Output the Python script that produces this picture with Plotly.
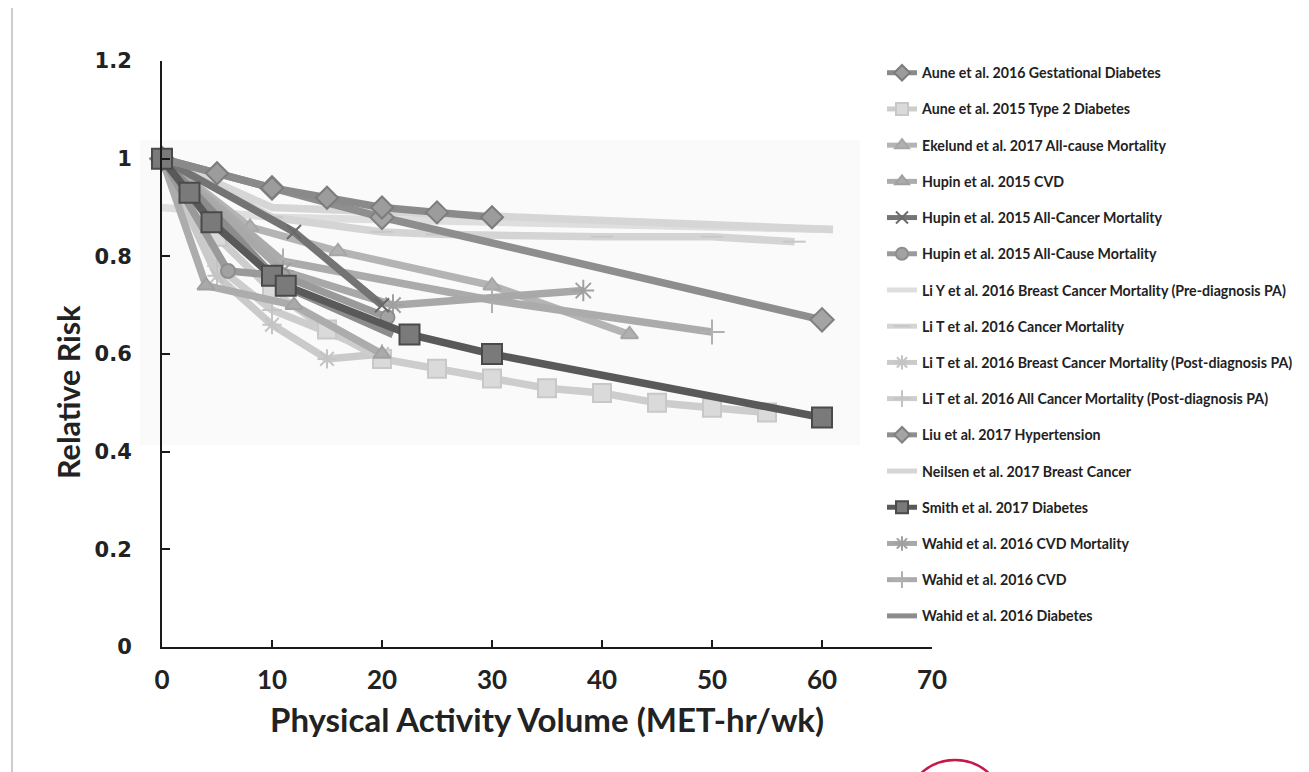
import plotly.graph_objects as go

# ---------------- data ----------------
names = [
    "Aune et al. 2016 Gestational Diabetes",
    "Aune et al. 2015 Type 2 Diabetes",
    "Ekelund et al. 2017 All-cause Mortality",
    "Hupin et al. 2015 CVD",
    "Hupin et al. 2015 All-Cancer Mortality",
    "Hupin et al. 2015 All-Cause Mortality",
    "Li Y et al. 2016 Breast Cancer Mortality (Pre-diagnosis PA)",
    "Li T et al. 2016 Cancer Mortality",
    "Li T et al. 2016 Breast Cancer Mortality (Post-diagnosis PA)",
    "Li T et al. 2016 All Cancer Mortality (Post-diagnosis PA)",
    "Liu et al. 2017 Hypertension",
    "Neilsen et al. 2017 Breast Cancer",
    "Smith et al. 2017 Diabetes",
    "Wahid et al. 2016 CVD Mortality",
    "Wahid et al. 2016 CVD",
    "Wahid et al. 2016 Diabetes",
]

aune_gd_x = [0, 5, 10, 15, 20, 25, 30]
aune_gd_y = [1.0, 0.97, 0.94, 0.92, 0.90, 0.89, 0.88]

aune_t2d_x = [0, 5, 10, 15, 20, 25, 30, 35, 40, 45, 50, 55]
aune_t2d_y = [1.0, 0.84, 0.73, 0.65, 0.59, 0.57, 0.55, 0.53, 0.52, 0.50, 0.49, 0.48]

ekelund_x = [0, 8, 16, 30, 42.5]
ekelund_y = [1.0, 0.86, 0.81, 0.74, 0.64]

hupin_cvd_x = [0, 4, 12, 20]
hupin_cvd_y = [1.0, 0.74, 0.70, 0.60]

hupin_cancer_x = [0, 12, 20]
hupin_cancer_y = [1.0, 0.85, 0.70]

hupin_all_x = [0, 6, 11, 20.5]
hupin_all_y = [1.0, 0.77, 0.76, 0.675]

liy_pre_x = [0, 10, 61]
liy_pre_y = [0.90, 0.88, 0.855]

lit_cancer_x = [0, 10, 20, 25, 40, 50, 57.5]
lit_cancer_y = [1.0, 0.88, 0.85, 0.845, 0.84, 0.84, 0.83]

lit_breast_x = [0, 5, 10, 15, 20]
lit_breast_y = [1.0, 0.76, 0.66, 0.59, 0.60]

lit_allc_x = [0, 5, 10, 20]
lit_allc_y = [1.0, 0.78, 0.69, 0.60]

liu_x = [0, 10, 20, 60]
liu_y = [1.0, 0.94, 0.88, 0.67]

neilsen_x = [0, 10, 61]
neilsen_y = [1.0, 0.90, 0.855]

smith_x = [0, 2.5, 4.5, 10, 11.25, 22.5, 30, 60]
smith_y = [1.0, 0.93, 0.87, 0.76, 0.74, 0.64, 0.60, 0.47]

wahid_cvdm_x = [0, 11, 21, 38.3]
wahid_cvdm_y = [1.0, 0.77, 0.70, 0.73]

wahid_cvd_x = [0, 11, 30, 50]
wahid_cvd_y = [1.0, 0.79, 0.71, 0.645]

wahid_dm_x = [0, 11, 21]
wahid_dm_y = [1.0, 0.74, 0.64]

series_x = [aune_gd_x, aune_t2d_x, ekelund_x, hupin_cvd_x, hupin_cancer_x, hupin_all_x,
            liy_pre_x, lit_cancer_x, lit_breast_x, lit_allc_x, liu_x, neilsen_x,
            smith_x, wahid_cvdm_x, wahid_cvd_x, wahid_dm_x]
series_y = [aune_gd_y, aune_t2d_y, ekelund_y, hupin_cvd_y, hupin_cancer_y, hupin_all_y,
            liy_pre_y, lit_cancer_y, lit_breast_y, lit_allc_y, liu_y, neilsen_y,
            smith_y, wahid_cvdm_y, wahid_cvd_y, wahid_dm_y]

x_ticks = [0, 10, 20, 30, 40, 50, 60, 70]
y_ticks = [0, 0.2, 0.4, 0.6, 0.8, 1.0, 1.2]
y_ticktext = ["0", "0.2", "0.4", "0.6", "0.8", "1", "1.2"]

x_title = "Physical Activity Volume (MET-hr/wk)"
y_title = "Relative Risk"

# ---------------- styles ----------------
styles = [
    dict(color="#8a8a8a", symbol="diamond", size=17, mfill="#9c9c9c", mline="#7c7c7c"),
    dict(color="#cdcdcd", symbol="square", size=18, mfill="#dadada", mline="#c8c8c8"),
    dict(color="#b4b4b4", symbol="triangle-up", size=15, mfill="#b0b0b0", mline="#a6a6a6"),
    dict(color="#acacac", symbol="triangle-up", size=15, mfill="#aaaaaa", mline="#a0a0a0"),
    dict(color="#747474", symbol="x-thin", size=14, mfill="#6a6a6a", mline="#6a6a6a"),
    dict(color="#9a9a9a", symbol="circle", size=14, mfill="#a2a2a2", mline="#8e8e8e"),
    dict(color="#dedede", symbol=None, size=0, mfill=None, mline=None),
    dict(color="#d4d4d4", symbol="line-ew", size=16, mfill="#c8c8c8", mline="#c8c8c8"),
    dict(color="#cacaca", symbol="asterisk", size=16, mfill="#c4c4c4", mline="#c4c4c4"),
    dict(color="#cdcdcd", symbol="cross-thin", size=14, mfill="#c4c4c4", mline="#c4c4c4"),
    dict(color="#8e8e8e", symbol="diamond", size=18, mfill="#a4a4a4", mline="#808080"),
    dict(color="#d6d6d6", symbol=None, size=0, mfill=None, mline=None),
    dict(color="#595959", symbol="square", size=20, mfill="#7a7a7a", mline="#4a4a4a"),
    dict(color="#a8a8a8", symbol="asterisk", size=18, mfill="#a0a0a0", mline="#a0a0a0"),
    dict(color="#ababab", symbol="cross-thin", size=18, mfill="#b0b0b0", mline="#b0b0b0"),
    dict(color="#8c8c8c", symbol=None, size=0, mfill=None, mline=None),
]

draw_order = [6, 11, 7, 9, 8, 1, 2, 3, 14, 13, 15, 5, 4, 10, 0, 12]

fig = go.Figure()
traces = {}
for i in range(len(names)):
    s = styles[i]
    if s["symbol"] is None:
        mode = "lines"
        marker = None
    else:
        mode = "lines+markers"
        marker = dict(symbol=s["symbol"], size=s["size"], color=s["mfill"],
                      line=dict(color=s["mline"], width=2))
    traces[i] = go.Scatter(
        x=series_x[i], y=series_y[i], name=names[i], mode=mode,
        line=dict(color=s["color"], width=7.5), marker=marker,
        legendgroup=str(i), legendrank=i + 1, cliponaxis=False,
    )
for i in draw_order:
    fig.add_trace(traces[i])

# screen geometry (page has an 8px body offset)
OFF = 8
W, H = 1309, 772
X0, X1, Y0, Y1 = 162, 932, 61, 647   # plot area in screen px


def px(xs):
    return (xs - X0) / (X1 - X0)


def py(ys):
    return (Y1 - ys) / (Y1 - Y0)


fig.update_layout(
    width=W, height=H,
    margin=dict(l=X0 - OFF, r=W - (X1 - OFF), t=Y0 - OFF, b=H - (Y1 - OFF)),
    paper_bgcolor="white", plot_bgcolor="rgba(0,0,0,0)",
    showlegend=True,
    legend=dict(
        x=px(882), y=py(57), xanchor="left", yanchor="top",
        font=dict(family="Lato", size=14.2, color="#222222", weight="bold"),
        bgcolor="rgba(0,0,0,0)", tracegroupgap=14.75, itemsizing="constant",
        traceorder="grouped", maxheight=740,
    ),
    xaxis=dict(
        range=[0, 70], tickvals=x_ticks, showgrid=False, zeroline=False,
        showline=True, linecolor="#1a1a1a", linewidth=2,
        ticks="inside", ticklen=7, tickwidth=2, tickcolor="#1a1a1a",
        tickfont=dict(family="Lato", size=26, color="#222222", weight="bold"),
        ticklabelstandoff=9,
    ),
    yaxis=dict(
        range=[0, 1.2], tickvals=y_ticks, ticktext=y_ticktext, showgrid=False,
        zeroline=False, showline=True, linecolor="#1a1a1a", linewidth=2,
        ticks="inside", ticklen=8, tickwidth=2, tickcolor="#1a1a1a",
        tickfont=dict(family="DejaVu Sans", size=21, color="#222222", weight="bold"),
        ticklabelstandoff=24,
    ),
    annotations=[
        dict(text=x_title, xref="paper", yref="paper", x=px(547), y=py(719),
             xanchor="center", yanchor="middle", showarrow=False,
             font=dict(family="Lato", size=33, color="#222222", weight="bold")),
        dict(text=y_title, xref="paper", yref="paper", x=px(68), y=py(392),
             xanchor="center", yanchor="middle", showarrow=False, textangle=-90,
             font=dict(family="Lato", size=30.5, color="#222222", weight="bold")),
    ],
    shapes=[
        dict(type="rect", xref="paper", yref="paper", x0=px(140), x1=px(860),
             y0=py(445), y1=py(140), layer="below", line=dict(width=0),
             fillcolor="#fafafa"),
        dict(type="line", xref="paper", yref="paper", x0=px(12), x1=px(1320),
             y0=py(5), y1=py(5), line=dict(color="#9a9a9a", width=1)),
        dict(type="line", xref="paper", yref="paper", x0=px(12), x1=px(12),
             y0=py(5), y1=py(780), line=dict(color="#9a9a9a", width=1)),
        dict(type="circle", xref="paper", yref="paper", x0=px(905), x1=px(1005),
             y0=py(760), y1=py(860), line=dict(color="#c8174a", width=2.5)),
    ],
)

fig.write_html("out.html")
